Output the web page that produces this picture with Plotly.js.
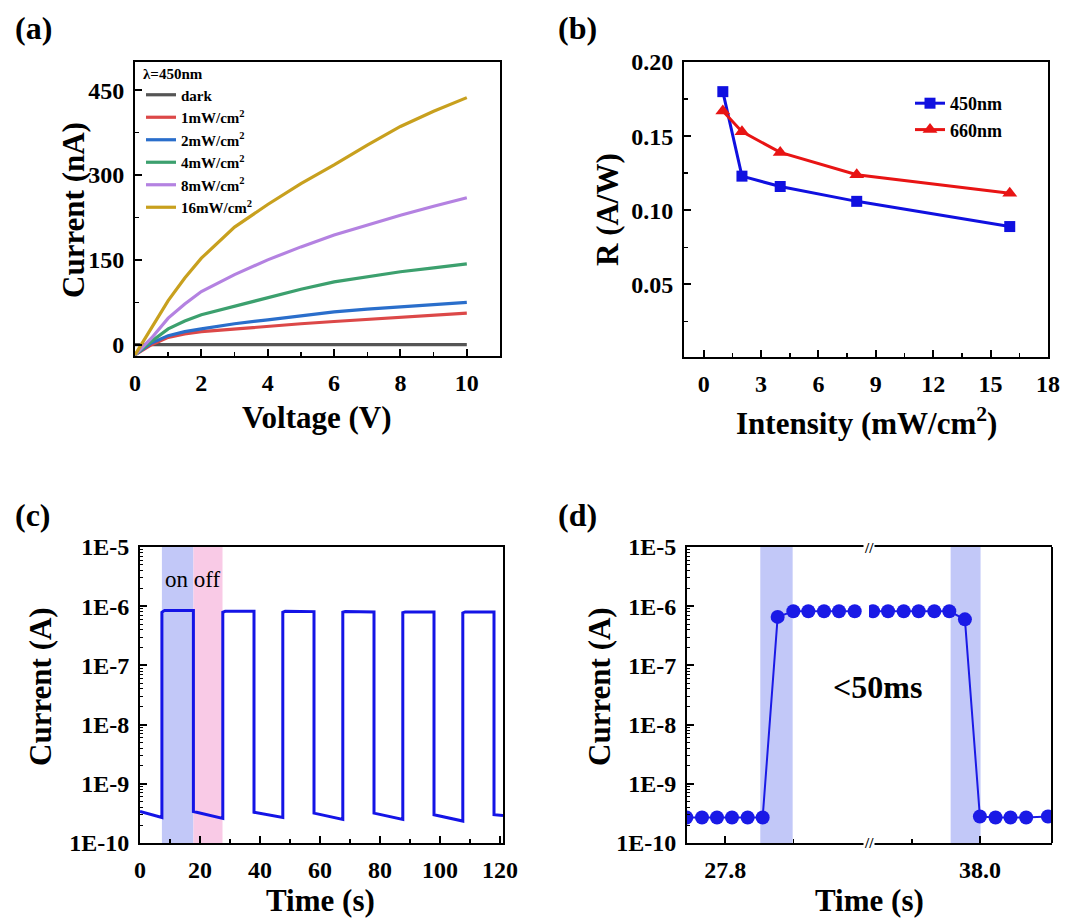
<!DOCTYPE html>
<html>
<head>
<meta charset="utf-8">
<script src="https://cdn.plot.ly/plotly-3.0.1.min.js"></script>
<style>html,body{margin:0;padding:0;background:#fff;}#chart{width:1066px;height:924px;}</style>
</head>
<body>
<div id="chart"></div>
<script>
// ---------- Panel (a): I-V curves, lambda = 450 nm ----------
const voltage = [0, 0.5, 1, 1.5, 2, 3, 4, 5, 6, 7, 8, 9, 10];
const ivNames = ['dark', '1mW/cm<sup>2</sup>', '2mW/cm<sup>2</sup>', '4mW/cm<sup>2</sup>', '8mW/cm<sup>2</sup>', '16mW/cm<sup>2</sup>'];
const ivDark = [0, 0, 0, 0, 0, 0, 0, 0, 0, 0, 0, 0, 0];
const iv1 = [-18, 0, 13, 19, 23, 28, 32, 37, 41, 45, 49, 52, 56];
const iv2 = [-18, 3, 16, 23, 28, 37, 44, 51, 58, 63, 67, 71, 75];
const iv4 = [-18, 6, 28, 42, 53, 68, 84, 98, 111, 120, 129, 136, 143];
const iv8 = [-18, 12, 47, 72, 94, 124, 150, 173, 194, 212, 229, 245, 260];
const iv16 = [-18, 30, 78, 118, 153, 208, 248, 285, 318, 353, 386, 413, 437];

// ---------- Panel (b): responsivity ----------
const intensity = [1, 2, 4, 8, 16];
const r450 = [0.180, 0.123, 0.116, 0.106, 0.089];
const r660 = [0.167, 0.153, 0.139, 0.124, 0.1115];

// ---------- Panel (c): on/off cycling ----------
const cTime = [0, 7.3, 7.3, 8.2, 17.8, 17.8, 27.6, 27.6, 28.4, 38.0, 38.0, 47.6, 47.6, 48.4, 58.0, 58.0,
               67.6, 67.6, 68.4, 78.0, 78.0, 87.6, 87.6, 88.4, 98.0, 98.0, 107.6, 107.6, 108.4, 118.0, 118.0, 121];
const cCurrent = [3.4e-10, 2.7e-10, 7.9e-7, 8.5e-7, 8.5e-7, 3.4e-10, 2.6e-10, 7.9e-7, 8.2e-7, 8.2e-7, 3.3e-10,
                  2.7e-10, 7.9e-7, 8.2e-7, 8.1e-7, 3.2e-10, 2.5e-10, 7.9e-7, 8.1e-7, 8.0e-7, 3.2e-10, 2.5e-10,
                  7.8e-7, 8.0e-7, 8.0e-7, 3.0e-10, 2.35e-10, 7.7e-7, 8.0e-7, 8.0e-7, 3.0e-10, 2.9e-10];
const cOn = [7.3, 17.8];
const cOff = [17.8, 27.5];

// ---------- Panel (d): response time (broken axis) ----------
const dTimeA = [27.743, 27.766, 27.788, 27.810, 27.833, 27.855, 27.877, 27.900, 27.922, 27.945, 27.967, 27.990];
const dCurrentA = [2.7e-10, 2.7e-10, 2.7e-10, 2.7e-10, 2.7e-10, 2.7e-10, 6.6e-7, 8.2e-7, 8.2e-7, 8.2e-7, 8.2e-7, 8.2e-7];
const dTimeB = [37.843, 37.865, 37.888, 37.910, 37.933, 37.955, 37.978, 38.000, 38.023, 38.045, 38.068, 38.100];
const dCurrentB = [8.2e-7, 8.2e-7, 8.2e-7, 8.2e-7, 8.2e-7, 8.2e-7, 6.0e-7, 2.8e-10, 2.7e-10, 2.7e-10, 2.7e-10, 2.8e-10];
const dRise = [27.8515, 27.899];
const dFall = [37.957, 38.001];

const logTickVals = [1e-10, 1e-9, 1e-8, 1e-7, 1e-6, 1e-5];
const logTickText = ['1E-10', '1E-9', '1E-8', '1E-7', '1E-6', '1E-5'];

// ---------- styling ----------
const SERIF = '"Liberation Serif", "Times New Roman", "DejaVu Serif", serif';
const ivColors = ['#555555', '#dc4848', '#2a6ecb', '#3ca06e', '#b482e1', '#c8a01e'];
const W = 1066, H = 924;
const px = v => v / W;
const py = v => 1 - v / H;

const minorLog = [];
for (let k = -10; k < -5; k++) for (let m = 2; m <= 9; m++) minorLog.push(m * Math.pow(10, k));

function axisBase(extra) {
  return Object.assign({
    showline: true, linecolor: 'black', linewidth: 2, mirror: true,
    ticks: 'inside', ticklen: 7, tickwidth: 2, tickcolor: 'black',
    showgrid: false, zeroline: false, ticklabelstandoff: 4,
    tickfont: {family: SERIF, size: 24, weight: 'bold', color: 'black'},
    minor: {ticks: 'inside', ticklen: 4, tickwidth: 1.5, tickcolor: 'black', showgrid: false}
  }, extra);
}

const traces = [];
const ivSeries = [ivDark, iv1, iv2, iv4, iv8, iv16];
ivSeries.forEach((s, i) => {
  traces.push({x: voltage, y: s, name: ivNames[i], type: 'scatter', mode: 'lines',
    line: {color: ivColors[i], width: 3.2}, xaxis: 'x', yaxis: 'y', legend: 'legend'});
});
traces.push({x: intensity, y: r450, name: '450nm', type: 'scatter', mode: 'lines+markers',
  line: {color: '#1010e0', width: 3}, marker: {symbol: 'square', size: 11, color: '#1010e0'},
  xaxis: 'x2', yaxis: 'y2', legend: 'legend2'});
traces.push({x: intensity, y: r660, name: '660nm', type: 'scatter', mode: 'lines+markers',
  line: {color: '#e81414', width: 3}, marker: {symbol: 'triangle-up', size: 13, color: '#e81414'},
  xaxis: 'x2', yaxis: 'y2', legend: 'legend2'});
traces.push({x: cTime, y: cCurrent, type: 'scatter', mode: 'lines', showlegend: false,
  line: {color: '#1414e6', width: 3}, xaxis: 'x3', yaxis: 'y3'});
traces.push({x: dTimeA, y: dCurrentA, type: 'scatter', mode: 'lines+markers', showlegend: false,
  line: {color: '#1a1ae6', width: 2}, marker: {size: 14, color: '#1a1ae6'}, xaxis: 'x4', yaxis: 'y4'});
traces.push({x: dTimeB, y: dCurrentB, type: 'scatter', mode: 'lines+markers', showlegend: false,
  line: {color: '#1a1ae6', width: 2}, marker: {size: 14, color: '#1a1ae6'}, xaxis: 'x5', yaxis: 'y4'});

const yTop1 = py(62);
const yBotA = py(356), yBotB = py(357);
const yTopC = py(547), yBotC = py(843);

const layout = {
  width: W, height: H, margin: {l: 0, r: 0, t: 0, b: 0},
  paper_bgcolor: 'white', plot_bgcolor: 'white',
  font: {family: SERIF, color: 'black'},
  xaxis: axisBase({domain: [px(135), px(500)], range: [0, 11], tick0: 0, dtick: 2, anchor: 'y',
    minor: {ticks: 'inside', ticklen: 4, tickwidth: 1.5, tickcolor: 'black', dtick: 1, tick0: 0}}),
  yaxis: axisBase({domain: [yBotA, yTop1], range: [-20, 500], tick0: 0, dtick: 150, anchor: 'x',
    minor: {ticks: 'inside', ticklen: 4, tickwidth: 1.5, tickcolor: 'black', dtick: 75, tick0: 0}}),
  xaxis2: axisBase({domain: [px(684), px(1048)], range: [-1.03, 18], tick0: 0, dtick: 3, anchor: 'y2',
    minor: {ticks: 'inside', ticklen: 4, tickwidth: 1.5, tickcolor: 'black', dtick: 1.5, tick0: 0}}),
  yaxis2: axisBase({domain: [yBotB, yTop1], range: [0.001, 0.2], tickmode: 'array',
    tickvals: [0.05, 0.10, 0.15, 0.20], tickformat: '.2f', anchor: 'x2',
    minor: {ticks: 'inside', ticklen: 4, tickwidth: 1.5, tickcolor: 'black', tickmode: 'array',
      tickvals: [0.025, 0.075, 0.125, 0.175]}}),
  xaxis3: axisBase({domain: [px(140), px(503)], range: [0, 121], tick0: 0, dtick: 20, anchor: 'y3',
    minor: {ticks: 'inside', ticklen: 4, tickwidth: 1.5, tickcolor: 'black', dtick: 10, tick0: 0}}),
  yaxis3: axisBase({domain: [yBotC, yTopC], type: 'log', range: [-10, -5], tickmode: 'array',
    tickvals: logTickVals, ticktext: logTickText, anchor: 'x3',
    minor: {ticks: 'inside', ticklen: 3, tickwidth: 1, tickcolor: 'black', tickmode: 'array', tickvals: minorLog}}),
  xaxis4: axisBase({domain: [px(687), px(869)], range: [27.744, 28.011], tickmode: 'array',
    tickvals: [27.8], ticktext: ['27.8'], anchor: 'y4',
    minor: {ticks: 'inside', ticklen: 4, tickwidth: 1.5, tickcolor: 'black', tickmode: 'array', tickvals: [27.9]}}),
  xaxis5: axisBase({domain: [px(869), px(1052)], range: [37.837, 38.106], tickmode: 'array',
    tickvals: [38.0], ticktext: ['38.0'], anchor: 'y4',
    minor: {ticks: 'inside', ticklen: 4, tickwidth: 1.5, tickcolor: 'black', tickmode: 'array', tickvals: [37.9]}}),
  yaxis4: axisBase({domain: [yBotC, yTopC], type: 'log', range: [-10, -5], tickmode: 'array',
    tickvals: logTickVals, ticktext: logTickText, anchor: 'x4', mirror: false,
    minor: {ticks: 'inside', ticklen: 3, tickwidth: 1, tickcolor: 'black', tickmode: 'array', tickvals: minorLog}}),
  legend: {x: px(141), y: py(59), xanchor: 'left', yanchor: 'top', bgcolor: 'rgba(0,0,0,0)',
    font: {family: SERIF, size: 15, weight: 'bold', color: 'black'}, tracegroupgap: 0,
    title: {text: 'λ=450nm', font: {family: SERIF, size: 15, weight: 'bold', color: 'black'}}},
  legend2: {x: px(910), y: py(85), xanchor: 'left', yanchor: 'top', bgcolor: 'rgba(0,0,0,0)',
    font: {family: SERIF, size: 18, weight: 'bold', color: 'black'}, tracegroupgap: 0},
  shapes: [
    {type: 'rect', xref: 'x3', yref: 'y3 domain', x0: cOn[0], x1: cOn[1], y0: 0, y1: 1,
      fillcolor: '#c2c8f8', line: {width: 0}, layer: 'below'},
    {type: 'rect', xref: 'x3', yref: 'y3 domain', x0: cOff[0], x1: cOff[1], y0: 0, y1: 1,
      fillcolor: '#f9cae6', line: {width: 0}, layer: 'below'},
    {type: 'rect', xref: 'x4', yref: 'y4 domain', x0: dRise[0], x1: dRise[1], y0: 0, y1: 1,
      fillcolor: '#c2c8f8', line: {width: 0}, layer: 'below'},
    {type: 'rect', xref: 'x5', yref: 'y4 domain', x0: dFall[0], x1: dFall[1], y0: 0, y1: 1,
      fillcolor: '#c2c8f8', line: {width: 0}, layer: 'below'},
    {type: 'line', xref: 'paper', yref: 'paper', x0: px(1052), x1: px(1052), y0: yBotC, y1: yTopC,
      line: {color: 'black', width: 2}}
  ],
  annotations: []
};

function ann(text, x, y, size, opts) {
  layout.annotations.push(Object.assign({
    text: text, xref: 'paper', yref: 'paper', x: px(x), y: py(y), xanchor: 'center', yanchor: 'middle',
    showarrow: false, font: {family: SERIF, size: size, weight: 'bold', color: 'black'}
  }, opts || {}));
}
// panel labels
ann('(a)', 33, 28, 32);
ann('(b)', 577, 28, 32);
ann('(c)', 33, 515, 32);
ann('(d)', 577, 515, 32);
// axis titles
ann('Voltage (V)', 317, 418, 31);
ann('Current (nA)', 73, 210, 31, {textangle: -90});
ann('Intensity (mW/cm<sup>2</sup>)', 866, 421, 31);
ann('R (A/W)', 607, 210, 31, {textangle: -90});
ann('Time (s)', 320, 900, 31);
ann('Current (A)', 40, 687, 31, {textangle: -90});
ann('Time (s)', 869, 900, 31);
ann('Current (A)', 599, 687, 31, {textangle: -90});
// in-plot texts
ann('on off', 192, 579, 23, {font: {family: SERIF, size: 23, color: 'black'}});
ann('&lt;50ms', 877, 687, 32);
ann('//', 869, 548, 15, {bgcolor: 'white', borderpad: 0});
ann('//', 869, 843, 15, {bgcolor: 'white', borderpad: 0});

Plotly.newPlot('chart', traces, layout, {displayModeBar: false, staticPlot: true});
</script>
</body>
</html>
